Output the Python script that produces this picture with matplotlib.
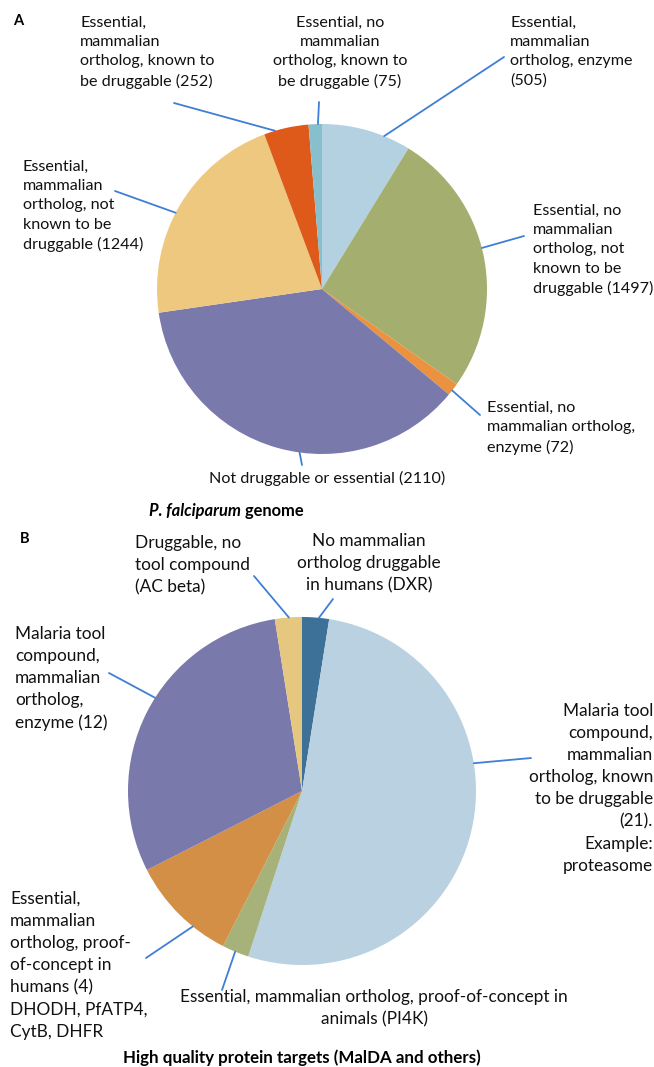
import matplotlib
matplotlib.use('Agg')
import matplotlib.pyplot as plt
import numpy as np

plt.rcParams['font.family'] = ['Lato', 'DejaVu Sans']

W, H = 654, 1067

# ---------------- data ----------------
a_labels = [
    "Essential,\nmammalian\northolog, enzyme\n(505)",
    "Essential, no\nmammalian\northolog, not\nknown to be\ndruggable (1497)",
    "Essential, no\nmammalian ortholog,\nenzyme (72)",
    "Not druggable or essential (2110)",
    "Essential,\nmammalian\northolog, not\nknown to be\ndruggable (1244)",
    "Essential,\nmammalian\northolog, known to\nbe druggable (252)",
    "Essential, no\nmammalian\northolog, known to\nbe druggable (75)",
]
a_values = [505, 1497, 72, 2110, 1244, 252, 75]
a_colors = ['#B4D1E1', '#A3AE6F', '#EB9240', '#7A79AB', '#EEC87E', '#DE5A1A', '#88BFCC']

b_labels = [
    "No mammalian\northolog druggable\nin humans (DXR)",
    "Malaria tool\ncompound,\nmammalian\northolog, known\nto be druggable\n(21).\nExample:\nproteasome",
    "Essential, mammalian ortholog, proof-of-concept in\nanimals (PI4K)",
    "Essential,\nmammalian\northolog, proof-\nof-concept in\nhumans (4)\nDHODH, PfATP4,\nCytB, DHFR",
    "Malaria tool\ncompound,\nmammalian\northolog,\nenzyme (12)",
    "Druggable, no\ntool compound\n(AC beta)",
]
b_values = [1, 21, 1, 4, 12, 1]
b_colors = ['#3D7198', '#B9D1E0', '#A6B27A', '#D38F45', '#7A79AB', '#E5C77F']

a_title = ("P. falciparum", " genome")
b_title = "High quality protein targets (MalDA and others)"

# ---------------- layout ----------------
# (text x, text y (top), ha, leader start x, leader start y, attach fraction within wedge)
a_layout = [
    (510, 16, 'left', 504, 57, 0.70),
    (533, 204, 'left', 524, 236, 0.47),
    (487, 401, 'left', 480, 415, 0.60),
    (327, 471, 'center', 302, 465, 0.44),
    (23, 160, 'left', 115, 191, 0.46),
    (80, 16, 'left', 174, 103, 0.25),
    (340, 16, 'center', 319, 102, 0.70),
]
b_layout = [
    (369, 533, 'center', 333, 599, 0.62),
    (653, 703, 'right', 531, 758, 0.38),
    (374, 989, 'center', 222, 990, 0.51),
    (10, 891, 'left', 146, 958, 0.33),
    (15, 626, 'left', 109, 673, 0.55),
    (135, 535, 'left', 254, 576, 0.52),
]

LEADER = '#3F7FD6'

fig = plt.figure(figsize=(W / 100, H / 100), dpi=100)


def fx(x):
    return x / W


def fy(y):
    return 1 - y / H


def draw_pie(cx, cy, r, values, colors, labels, layout, fs, ls):
    ax = fig.add_axes([fx(cx - r), fy(cy + r), 2 * r / W, 2 * r / H])
    wedges, _ = ax.pie(values, colors=colors, startangle=90, counterclock=False,
                       wedgeprops=dict(linewidth=0))
    ax.set_xlim(-1, 1)
    ax.set_ylim(-1, 1)
    ax.set_aspect('equal')
    ax.axis('off')
    for w, lab, (tx, ty, ha, lx, ly, f) in zip(wedges, labels, layout):
        ang = np.deg2rad(w.theta2 - f * (w.theta2 - w.theta1))
        ax.annotate('', xy=(np.cos(ang), np.sin(ang)), xycoords='data',
                    xytext=(fx(lx), fy(ly)), textcoords='figure fraction',
                    arrowprops=dict(arrowstyle='-', color=LEADER, lw=1.3,
                                    shrinkA=0, shrinkB=0), annotation_clip=False)
        fig.text(fx(tx), fy(ty), lab, ha=ha, va='top', multialignment=ha,
                 fontsize=fs, linespacing=ls, color='#111111')
    return ax


axA = draw_pie(322, 289, 165, a_values, a_colors, a_labels, a_layout, 11.6, 1.47)
axB = draw_pie(302, 791, 174, b_values, b_colors, b_labels, b_layout, 12.4, 1.47)

fig.text(fx(13), fy(21), 'A', fontsize=10.5, fontweight='bold', va='center', ha='left')
fig.text(fx(20), fy(539), 'B', fontsize=10.5, fontweight='bold', va='center', ha='left')

t1 = fig.text(fx(149), fy(511), a_title[0], fontsize=11.9, fontweight='bold',
              fontstyle='italic', va='center', ha='left')
axA.annotate(a_title[1], xy=(1, 0.5), xycoords=t1, va='center', ha='left',
             fontsize=11.9, fontweight='bold', annotation_clip=False)

fig.text(fx(302), fy(1063), b_title, fontsize=12.2, fontweight='bold',
         va='baseline', ha='center')

fig.savefig('out.png', dpi=100)
